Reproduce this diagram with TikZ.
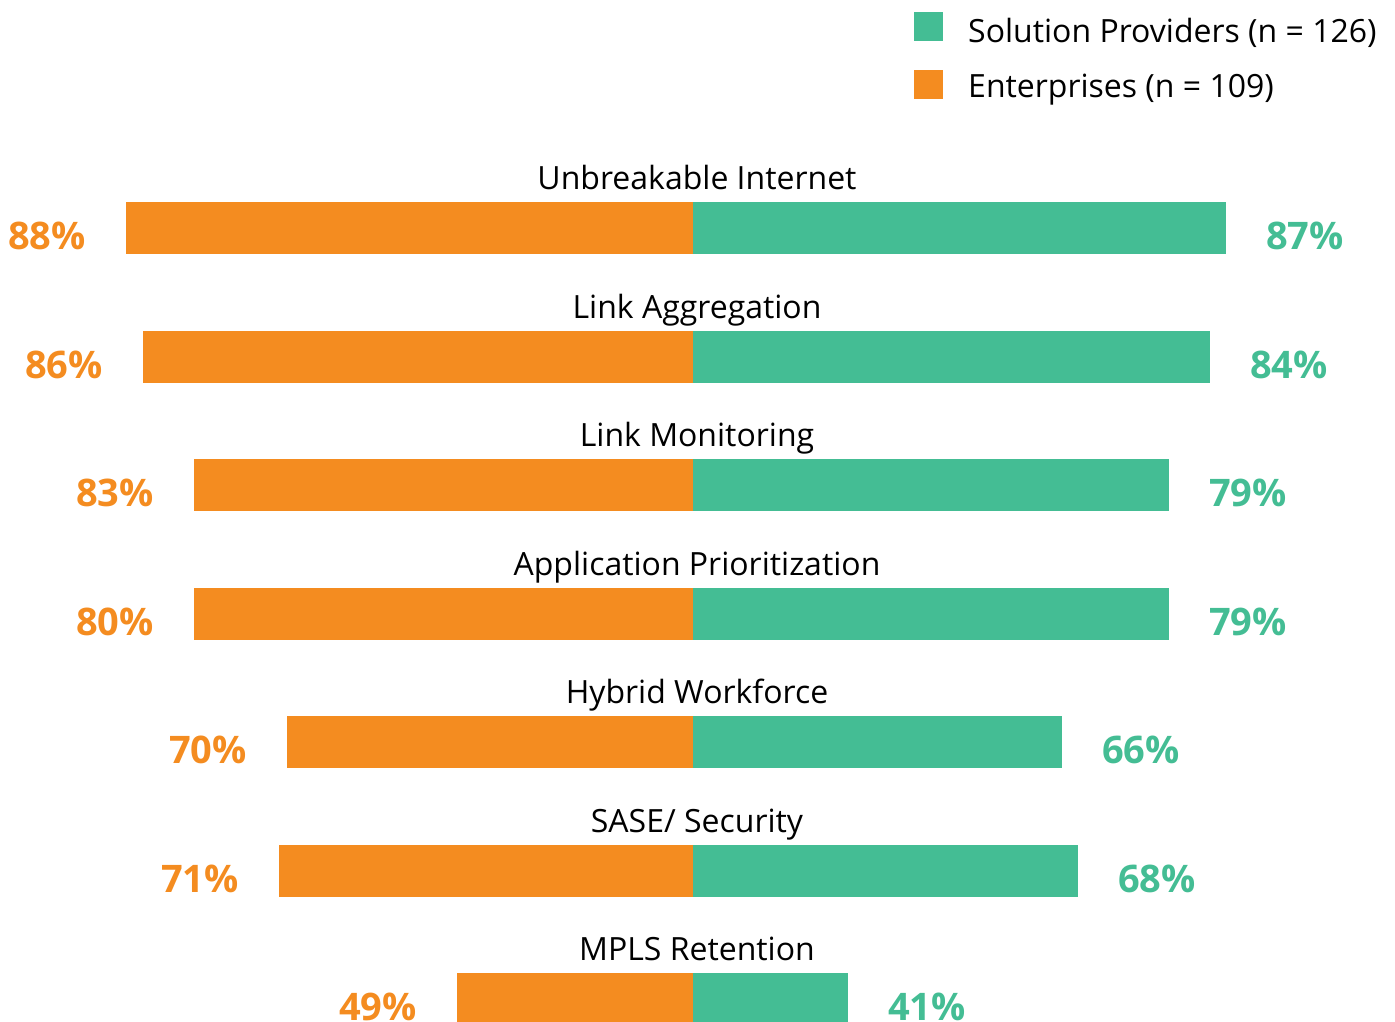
\documentclass[tikz,border=0pt]{standalone}
\usepackage{fontspec}
\setmainfont{Open Sans}
\definecolor{provgreen}{HTML}{44BD94}
\definecolor{entorange}{HTML}{F48C20}

\begin{document}
\begin{tikzpicture}[x=1pt,y=-1pt,
    bartitle/.style={anchor=base,inner sep=0pt,font=\fontsize{32}{32}\selectfont},
    pctleft/.style={anchor=base east,inner sep=0pt,text=entorange,font=\fontsize{38}{38}\selectfont\bfseries},
    pctright/.style={anchor=base west,inner sep=0pt,text=provgreen,font=\fontsize{38}{38}\selectfont\bfseries},
    legtext/.style={anchor=base west,inner sep=0pt,font=\fontsize{32}{32}\selectfont}]
    \useasboundingbox (0,0) rectangle (1395,1021);
    % legend
    \fill[provgreen] (914,12) rectangle (943,41);
    \fill[entorange] (914,70) rectangle (943,99);
    \node[legtext] (legprov) at (968,42) {Solution Providers (n = 126)};
    \node[legtext] (legent) at (968,97) {Enterprises (n = 109)};
    % bars
    \foreach \i/\name/\top/\l/\r/\pl/\pr in {
        1/Unbreakable Internet/202/126/1226/88/87,
        2/Link Aggregation/331/143/1210/86/84,
        3/Link Monitoring/459/194/1169/83/79,
        4/Application Prioritization/588/194/1169/80/79,
        5/Hybrid Workforce/716/287/1062/70/66,
        6/SASE\slash{} Security/845/279/1078/71/68,
        7/MPLS Retention/973/457/848/49/41}{
        \fill[entorange] (\l,\top) rectangle (693,\top+52);
        \fill[provgreen] (693,\top) rectangle (\r,\top+52);
        \node[bartitle] (title\i) at (697,\top-13) {\name};
        \node[pctleft] (ent\i) at (\l-40,\top+47) {\pl\%};
        \node[pctright] (prov\i) at (\r+40,\top+47) {\pr\%};
    }
\end{tikzpicture}
\end{document}
